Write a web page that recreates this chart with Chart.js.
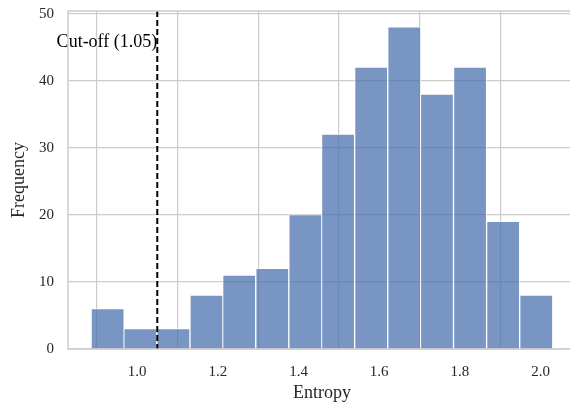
<!DOCTYPE html>
<html>
<head>
<meta charset="utf-8">
<script src="https://cdn.jsdelivr.net/npm/chart.js@4/dist/chart.umd.min.js"></script>
<style>
  html, body { margin: 0; padding: 0; background: #ffffff; overflow: hidden; }
  #wrap { width: 578px; height: 406px; position: relative; }
</style>
</head>
<body>
<div id="wrap"><canvas id="c" width="578" height="406"></canvas></div>
<script>
// Histogram bin centres (entropy) and counts
const binCenters = [0.927, 1.008, 1.090, 1.172, 1.253, 1.335, 1.417, 1.498, 1.580, 1.662, 1.743, 1.825, 1.907, 1.989];
const frequencies = [6, 3, 3, 8, 11, 12, 20, 32, 42, 48, 38, 42, 19, 8];
const xTicks = [1.0, 1.2, 1.4, 1.6, 1.8, 2.0];
const yTicks = [0, 10, 20, 30, 40, 50];
const cutoff = 1.05;
const cutoffLabel = 'Cut-off (1.05)';
const xTitle = 'Entropy';
const yTitle = 'Frequency';
const xRange = [0.8288, 2.0875];
const yRange = [0, 50.4];

const SERIF = "'Liberation Serif', 'Times New Roman', serif";

const framePlugin = {
  id: 'frameAndCutoff',
  afterDatasetsDraw(chart) {
    const { ctx, chartArea: a, scales } = chart;
    const px = scales.x.getPixelForValue(cutoff);
    ctx.save();
    ctx.strokeStyle = '#000000';
    ctx.lineWidth = 2;
    ctx.setLineDash([6, 3]);
    ctx.beginPath();
    ctx.moveTo(px, a.top);
    ctx.lineTo(px, a.bottom);
    ctx.stroke();
    ctx.setLineDash([]);
    ctx.fillStyle = '#000000';
    ctx.font = '18px ' + SERIF;
    ctx.textAlign = 'right';
    ctx.textBaseline = 'middle';
    ctx.fillText(cutoffLabel, px, scales.y.getPixelForValue(45.7));
    ctx.strokeStyle = '#cccccc';
    ctx.lineWidth = 1.5;
    ctx.strokeRect(a.left, a.top, a.right - a.left, a.bottom - a.top);
    ctx.restore();
  }
};

new Chart(document.getElementById('c'), {
  type: 'bar',
  data: {
    datasets: [{
      data: binCenters.map((x, i) => ({ x: x, y: frequencies[i] })),
      backgroundColor: 'rgba(76,114,176,0.75)',
      borderColor: 'rgba(255,255,255,0.85)',
      borderWidth: 0.8,
      borderSkipped: 'start',
      barPercentage: 1.0,
      categoryPercentage: 1.0
    }]
  },
  options: {
    responsive: false,
    animation: false,
    devicePixelRatio: 1,
    layout: { padding: { top: 0, right: 2, left: 0, bottom: 0 } },
    plugins: { legend: { display: false }, tooltip: { enabled: false } },
    scales: {
      x: {
        type: 'linear',
        offset: false,
        min: xRange[0],
        max: xRange[1],
        afterFit(s) { s.height = 57; s.paddingLeft = 0; s.paddingRight = 0; },
        afterBuildTicks(s) { s.ticks = xTicks.map(v => ({ value: v })); },
        grid: { color: '#cccccc', lineWidth: 1.2, drawTicks: false },
        border: { display: false },
        ticks: {
          padding: 14,
          color: '#262626',
          font: { family: SERIF, size: 15 },
          callback: v => v.toFixed(1),
          maxRotation: 0
        },
        title: {
          display: true,
          text: xTitle,
          color: '#262626',
          font: { family: SERIF, size: 18 },
          padding: { top: 0, bottom: 2 }
        }
      },
      y: {
        min: yRange[0],
        max: yRange[1],
        afterFit(s) { s.width = 68; s.paddingTop = 11; s.paddingBottom = 0; },
        afterBuildTicks(s) { s.ticks = yTicks.map(v => ({ value: v })); },
        grid: { color: '#cccccc', lineWidth: 1.2, drawTicks: false },
        border: { display: false },
        ticks: {
          padding: 14,
          color: '#262626',
          font: { family: SERIF, size: 15 },
          callback: v => String(v)
        },
        title: {
          display: true,
          text: yTitle,
          color: '#262626',
          font: { family: SERIF, size: 18 },
          padding: { top: 8, bottom: 0 }
        }
      }
    }
  },
  plugins: [framePlugin]
});
</script>
</body>
</html>
